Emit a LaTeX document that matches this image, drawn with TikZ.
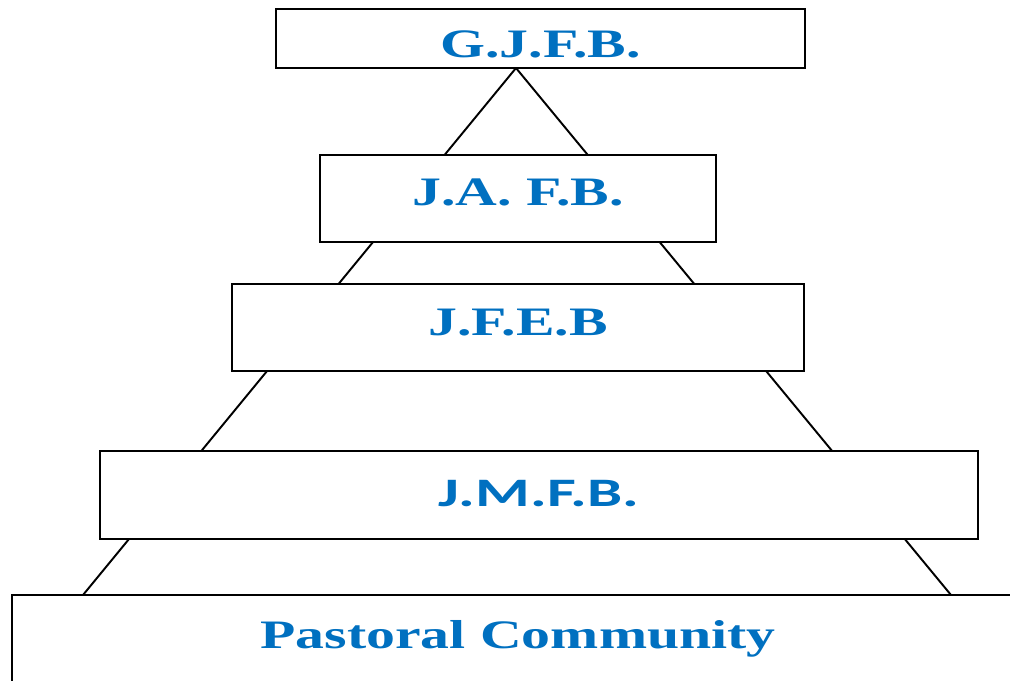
\documentclass[tikz,border=0pt]{standalone}
\usepackage{fontspec}
\setmainfont{Liberation Serif}
\newfontfamily\carlito{Carlito}
\usetikzlibrary{backgrounds}
\definecolor{tierblue}{RGB}{0,112,192}

\begin{document}
\begin{tikzpicture}[x=0.02cm,y=-0.02cm,
        tier/.style={draw,line width=1.1pt,fill=white,inner sep=0pt,
            text=tierblue,font=\fontsize{23}{25}\selectfont\bfseries,
            text height=15.2pt,text depth=0pt},
        leg/.style={line width=1.1pt}]
        \useasboundingbox (0,0) rectangle (1010,680);
        \clip (0,0) rectangle (1010,680);

        \node[tier,minimum width=10.58cm,minimum height=1.18cm,text height=22pt] (gjfb) at (540.5,38.5) {\scalebox{1.43}[1]{G.J.F.B.}};
        \node[tier,minimum width=7.92cm,minimum height=1.74cm,text depth=6.8pt] (jafb) at (518,198.5) {\scalebox{1.43}[1]{J.A. F.B.}};
        \node[tier,minimum width=11.44cm,minimum height=1.74cm,text depth=5.7pt] (jfeb) at (518,327.5) {\scalebox{1.43}[1]{J.F.E.B}};
        \node[tier,minimum width=17.56cm,minimum height=1.76cm,text depth=2pt,font=\fontsize{23}{25}\selectfont\carlito\bfseries] (jmfb) at (539,495) {\scalebox{1.55}[1]{J.M.F.B.}};
        \node[tier,minimum width=20.24cm,minimum height=2.1cm,text depth=14pt] (pastoral) at (518,647.5) {\scalebox{1.43}[1]{Pastoral Community}};

        \coordinate (apex) at (516,68);
        \coordinate (footL) at (83,595);
        \coordinate (footR) at (951,595);

        \begin{scope}[on background layer]
            \draw[leg] (footL) -- (apex) -- (footR);
        \end{scope}
    \end{tikzpicture}
\end{document}
